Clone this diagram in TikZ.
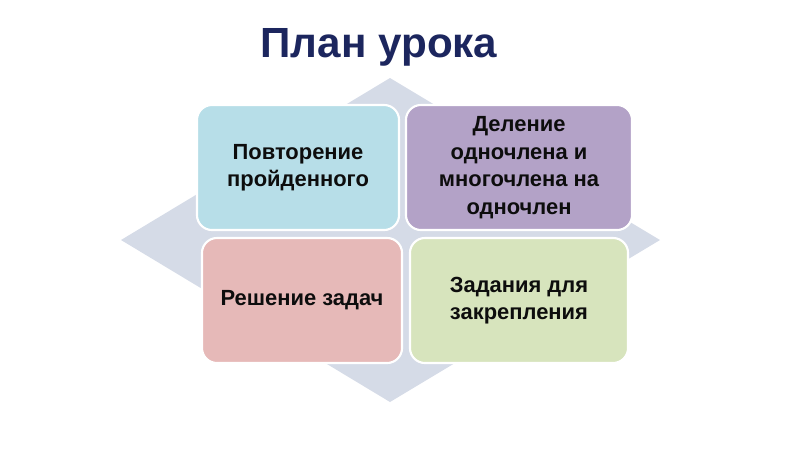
\documentclass[tikz,border=0pt]{standalone}
\usepackage{fontspec}
\setmainfont{Liberation Sans}
\usepackage{tikz}
\usetikzlibrary{positioning}

\definecolor{titleblue}{RGB}{28,38,94}
\definecolor{rombfill}{RGB}{213,219,231}
\definecolor{boxblue}{RGB}{183,222,232}
\definecolor{boxpurple}{RGB}{179,162,199}
\definecolor{boxpink}{RGB}{230,185,184}
\definecolor{boxgreen}{RGB}{215,228,189}

\tikzset{
    planbox/.style={draw=white, line width=1.5pt, rounded corners=0.375cm,
        inner sep=0pt, outer sep=0pt, align=center, text=black!95,
        minimum height=3.125cm,
        font=\fontsize{15.6}{19.5}\selectfont\bfseries},
    plantitle/.style={text=titleblue, font=\fontsize{30}{36}\selectfont\bfseries}
}

\begin{document}
\begin{tikzpicture}[x=0.025cm, y=-0.025cm]
            \useasboundingbox (0,0) rectangle (800,450);
            \fill[rombfill] (390,78) -- (660,240) -- (390,402) -- (121,240) -- cycle;
            \node[plantitle] (title) at (379,47) {План урока};
            \node[planbox, fill=boxblue, minimum width=5.05cm] (povt) at (298,167.5) {Повторение\\пройденного};
            \node[planbox, fill=boxpurple, minimum width=5.65cm] (delenie) at (519,167.5) {Деление\\одночлена и\\многочлена на\\одночлен};
            \node[planbox, fill=boxpink, minimum width=5cm] (reshenie) at (302,300.5) {Решение задач};
            \node[planbox, fill=boxgreen, minimum width=5.45cm] (zadaniya) at (519,300.5) {Задания для\\закрепления};
\end{tikzpicture}
\end{document}
